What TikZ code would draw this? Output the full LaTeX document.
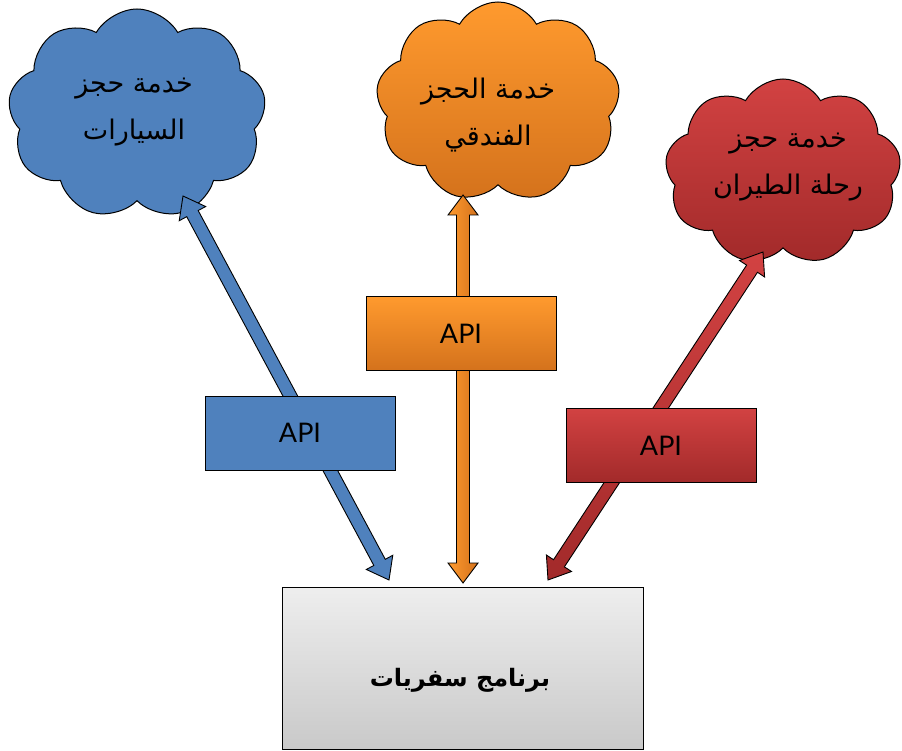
\documentclass[tikz,border=0pt]{standalone}
\usepackage{fontspec}
\setmainfont{Lato}
\newfontfamily\arabicfont[Script=Arabic]{DejaVu Sans}
\TeXXeTstate=1
\usetikzlibrary{shapes.symbols,calc,shadings}
\definecolor{blueF}{HTML}{4F81BD}
\definecolor{orgTop}{HTML}{FF9A2E}
\definecolor{orgBot}{HTML}{D4721C}
\definecolor{redTop}{HTML}{D24242}
\definecolor{redBot}{HTML}{A22A2A}
\definecolor{grayTop}{HTML}{EEEEEE}
\definecolor{grayBot}{HTML}{C9C9C9}
\tikzset{
  cloudbox/.style={cloud, cloud puffs=9, cloud puff arc=120, cloud ignores aspect,
    draw=black, line width=1pt, inner sep=0pt},
  cloudtext/.style={align=center, inner sep=0pt,
    font=\arabicfont\fontsize{27}{47}\selectfont},
  apibox/.style={draw=black, line width=0.9pt, inner sep=0pt,
    font=\fontsize{27}{30}\selectfont, minimum width=190pt, minimum height=74pt},
  arrowshape/.style={draw=black, line width=0.9pt, line join=miter},
}
\newcommand\blockarrow[3]{%
  \coordinate (#1h) at ($(#1)!20pt!(#2)$);
  \coordinate (#2h) at ($(#2)!20pt!(#1)$);
  \path[arrowshape,#3] (#1) -- ($(#1h)!15pt!90:(#2)$) -- ($(#1h)!6.5pt!90:(#2)$)
    -- ($(#2h)!6.5pt!-90:(#1)$) -- ($(#2h)!15pt!-90:(#1)$) -- (#2)
    -- ($(#2h)!15pt!90:(#1)$) -- ($(#2h)!6.5pt!90:(#1)$)
    -- ($(#1h)!6.5pt!-90:(#2)$) -- ($(#1h)!15pt!-90:(#2)$) -- cycle;}
\begin{document}
\begin{tikzpicture}[x=1pt,y=-1pt]
\useasboundingbox (0,0) rectangle (902,751);
% clouds
\node[cloudbox, fill=blueF, minimum width=258pt, minimum height=210pt] (cCar) at (137,114) {};
\node[cloudtext] (tCar) at (134,112)
  {\beginR خدمة حجز\endR\\\beginR السيارات\endR};
\node[cloudbox, top color=orgTop, bottom color=orgBot, minimum width=244pt, minimum height=200pt] (cHotel) at (498,102) {};
\node[cloudtext] (tHotel) at (488,115)
  {\beginR خدمة الحجز\endR\\\beginR الفندقي\endR};
\node[cloudbox, top color=redTop, bottom color=redBot, minimum width=236pt, minimum height=186pt] (cFlight) at (783,172) {};
\node[cloudtext] (tFlight) at (788,167)
  {\beginR خدمة حجز\endR\\\beginR رحلة الطيران\endR};
% arrow end points
\coordinate (bA) at (183,196);
\coordinate (bB) at (389,580);
\coordinate (oA) at (463,195);
\coordinate (oB) at (463,583);
\coordinate (rA) at (763,252);
\coordinate (rB) at (548,580);
\blockarrow{bA}{bB}{fill=blueF}
\blockarrow{oA}{oB}{left color=orgTop, right color=orgBot}
\blockarrow{rA}{rB}{top color=redTop, bottom color=redBot}
% API boxes
\node[apibox, fill=blueF] (apiCar) at (300,433) {API};
\node[apibox, top color=orgTop, bottom color=orgBot] (apiHotel) at (461,333.5) {API};
\node[apibox, top color=redTop, bottom color=redBot] (apiFlight) at (661,445.5) {API};
% application box
\node[draw=black, line width=0.9pt, top color=grayTop, bottom color=grayBot,
  minimum width=361pt, minimum height=162pt] (app) at (462.5,668) {};
\node[font=\arabicfont\bfseries\fontsize{24}{28}\selectfont] (appText) at (460,680)
  {\beginR برنامج سفريات\endR};
\end{tikzpicture}
\end{document}
